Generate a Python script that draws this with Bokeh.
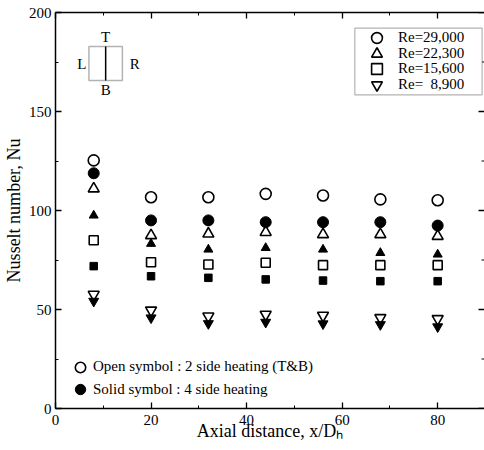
from bokeh.plotting import figure
from bokeh.models import (FixedTicker, LinearAxis, Legend, LegendItem, Label,
                          BoxAnnotation, Range1d, CustomJSTickFormatter)
from bokeh.embed import file_html
from bokeh.resources import INLINE

# ---- data ----
x_pos = [8, 20, 32, 44, 56, 68, 80]
re29_open = [125.3, 106.7, 106.7, 108.4, 107.6, 105.6, 105.2]
re29_solid = [118.8, 95.0, 95.0, 94.1, 94.1, 94.1, 92.4]
re22_open = [111.0, 87.4, 88.2, 89.0, 87.9, 87.9, 87.0]
re22_solid = [97.5, 83.2, 80.3, 81.1, 80.3, 78.6, 77.8]
re15_open = [85.0, 73.9, 72.7, 73.6, 72.4, 72.4, 72.4]
re15_solid = [71.9, 66.8, 66.0, 65.2, 64.6, 64.3, 64.3]
re8_open = [57.6, 49.6, 46.6, 47.5, 47.0, 45.8, 45.3]
re8_solid = [54.2, 45.8, 42.9, 43.6, 42.8, 42.4, 41.3]

re_labels = ["Re=29,000", "Re=22,300", "Re=15,600", "Re=\u00a0\u00a08,900"]
x_major = [0, 20, 40, 60, 80]
x_minor = [10, 30, 50, 70, 90]
y_major = [0, 50, 100, 150, 200]
y_minor = [25, 75, 125, 175]

FONT = "Liberation Serif"
X_END = 89.8
PX_X = 430 / X_END   # pixels per x unit

p = figure(width=484, height=450, x_range=Range1d(0, X_END), y_range=Range1d(0, 200),
           output_backend="svg", toolbar_location=None,
           min_border_left=54, min_border_right=0, min_border_top=12, min_border_bottom=42)
p.xgrid.visible = False
p.ygrid.visible = False
p.outline_line_color = None
p.background_fill_color = "white"
p.border_fill_color = "white"

xt = FixedTicker(ticks=x_major, minor_ticks=x_minor)
yt = FixedTicker(ticks=y_major, minor_ticks=y_minor)


def style(ax):
    ax.axis_line_color = "black"
    ax.axis_line_width = 1.5
    ax.major_tick_in = 6
    ax.major_tick_out = 0
    ax.minor_tick_in = 3
    ax.minor_tick_out = 0
    ax.major_tick_line_width = 1.3
    ax.minor_tick_line_width = 1.0
    ax.major_tick_line_color = "black"
    ax.minor_tick_line_color = "black"
    ax.major_label_text_font = FONT
    ax.major_label_text_font_size = "15px"
    ax.major_label_text_color = "black"
    ax.axis_label_text_font = FONT
    ax.axis_label_text_font_size = "18px"
    ax.axis_label_text_font_style = "normal"
    ax.axis_label_text_color = "black"


p.xaxis.ticker = xt
p.yaxis.ticker = yt
style(p.xaxis[0])
style(p.yaxis[0])
p.xaxis.axis_label = "Axial distance, x/D\u2095"
p.yaxis.axis_label = "Nusselt number, Nu"
p.xaxis.major_label_standoff = 6
p.yaxis.major_label_standoff = 4
p.xaxis.axis_label_standoff = -7
p.yaxis.axis_label_standoff = 2

blank = CustomJSTickFormatter(code="return '';")
top = LinearAxis(ticker=xt, formatter=blank)
style(top)
top.major_label_standoff = 0
p.add_layout(top, "above")

# right-hand inward ticks (frame edge is at the window edge)
maj_len = 6 / PX_X
min_len = 3 / PX_X
p.segment(x0=[X_END - maj_len] * len(y_major), y0=y_major, x1=[X_END] * len(y_major), y1=y_major,
          line_color="black", line_width=1.3)
p.segment(x0=[X_END - min_len] * len(y_minor), y0=y_minor, x1=[X_END] * len(y_minor), y1=y_minor,
          line_color="black", line_width=1.0)

open_kw = dict(fill_color="white", line_color="black", line_width=1.6)
solid_kw = dict(fill_color="black", line_color="black", line_width=1.0)

r29o = p.scatter(x_pos, re29_open, marker="circle", size=11, **open_kw)
r22o = p.scatter(x_pos, re22_open, marker="triangle", size=11, **open_kw)
r15o = p.scatter(x_pos, re15_open, marker="square", size=9, **open_kw)
r8o = p.scatter(x_pos, re8_open, marker="inverted_triangle", size=11, **open_kw)
r29s = p.scatter(x_pos, re29_solid, marker="circle", size=11, **solid_kw)
r22s = p.scatter(x_pos, re22_solid, marker="triangle", size=9, **solid_kw)
r15s = p.scatter(x_pos, re15_solid, marker="square", size=7.5, **solid_kw)
r8s = p.scatter(x_pos, re8_solid, marker="inverted_triangle", size=10, **solid_kw)

# Re legend (top right): border box + two interleaved legends (rows overlap the glyph boxes)
p.add_layout(BoxAnnotation(left=62.66, right=89.3, bottom=158.4, top=192.1,
                           fill_color="white", fill_alpha=1.0,
                           line_color="black", line_width=1.2))

leg_kw = dict(orientation="vertical", border_line_color=None, background_fill_alpha=0.0,
              label_text_font=FONT, label_text_font_size="15px", label_text_color="black",
              glyph_width=27, glyph_height=27, label_height=27,
              spacing=4, padding=0, margin=0, label_standoff=8)
legA = Legend(items=[LegendItem(label=re_labels[0], renderers=[r29o]),
                     LegendItem(label=re_labels[2], renderers=[r15o])],
              location=(308, 326), **leg_kw)
legB = Legend(items=[LegendItem(label=re_labels[1], renderers=[r22o]),
                     LegendItem(label=re_labels[3], renderers=[r8o])],
              location=(308, 310.5), **leg_kw)
p.add_layout(legA, "center")
p.add_layout(legB, "center")

# symbol-meaning legend (bottom left)
leg2_kw = dict(orientation="vertical", border_line_color=None, background_fill_alpha=0.0,
               label_text_font=FONT, label_text_font_size="15px", label_text_color="black",
               glyph_width=26, glyph_height=26, label_height=26,
               spacing=0, padding=0, margin=0, label_standoff=0)
legC = Legend(items=[LegendItem(label="Open symbol : 2 side heating (T&B)", renderers=[r29o])],
              location=(12, 28.5), **leg2_kw)
legD = Legend(items=[LegendItem(label="Solid symbol : 4 side heating", renderers=[r29s])],
              location=(12, 6), **leg2_kw)
p.add_layout(legC, "center")
p.add_layout(legD, "center")

# cross-section schematic (top left)
p.add_layout(BoxAnnotation(left=7.0, right=14.0, bottom=165.7, top=182.8,
                           fill_alpha=0, line_color="black", line_width=1.5))
p.segment(x0=[10.5], y0=[165.7], x1=[10.5], y1=[182.8], line_color="black", line_width=1.5)
for txt, lx, ly in [("T", 10.5, 187.5), ("B", 10.5, 161.0), ("L", 5.5, 174.2), ("R", 16.6, 174.2)]:
    p.add_layout(Label(x=lx, y=ly, text=txt, text_font=FONT, text_font_size="15px",
                       text_align="center", text_baseline="middle", text_color="black"))

open("out.html", "w").write(file_html(p, INLINE))
